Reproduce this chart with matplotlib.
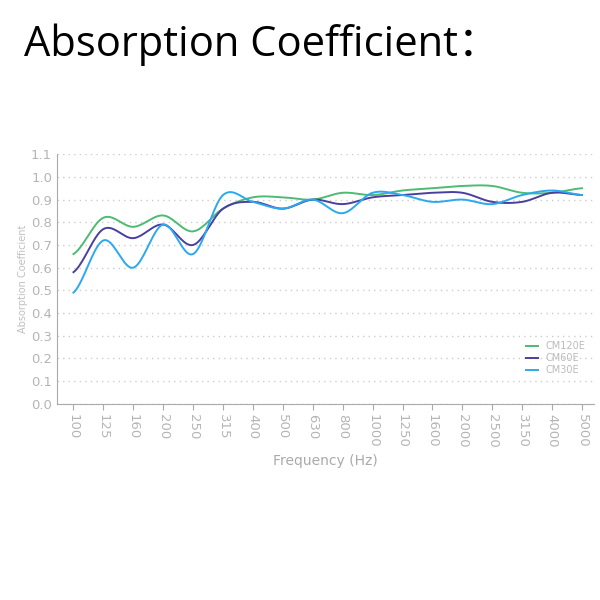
import numpy as np
import matplotlib
matplotlib.use("Agg")
import matplotlib.pyplot as plt

freqs = ["100","125","160","200","250","315","400","500","630","800","1000","1250","1600","2000","2500","3150","4000","5000"]
cm120e = [0.66,0.82,0.78,0.83,0.76,0.86,0.91,0.91,0.90,0.93,0.92,0.94,0.95,0.96,0.96,0.93,0.93,0.95]
cm60e  = [0.58,0.77,0.73,0.79,0.70,0.86,0.89,0.86,0.90,0.88,0.91,0.92,0.93,0.93,0.89,0.89,0.93,0.92]
cm30e  = [0.49,0.72,0.60,0.79,0.66,0.92,0.89,0.86,0.90,0.84,0.93,0.92,0.89,0.90,0.88,0.92,0.94,0.92]
names = ["CM120E","CM60E","CM30E"]
colors = ["#4dbb72","#4b3f9e","#2ba8f0"]

def smooth(y, n=20):
    y = np.asarray(y, float)
    p = np.concatenate([[y[0]], y, [y[-1]]])
    xs, ys = [], []
    for i in range(len(y) - 1):
        p0, p1, p2, p3 = p[i], p[i+1], p[i+2], p[i+3]
        t = np.linspace(0, 1, n, endpoint=False)
        v = 0.5*((2*p1) + (-p0+p2)*t + (2*p0-5*p1+4*p2-p3)*t**2 + (-p0+3*p1-3*p2+p3)*t**3)
        xs.append(i + t); ys.append(v)
    xs.append([len(y)-1]); ys.append([y[-1]])
    return np.concatenate(xs), np.concatenate(ys)

fig = plt.figure(figsize=(6, 6), dpi=100)
fig.text(0.04, 0.925, "Absorption Coefficient：", fontsize=30,
         family=["Open Sans", "Noto Sans CJK SC", "DejaVu Sans"], va="center", ha="left")
ax = fig.add_axes([0.095, 0.327, 0.895, 0.416])
x = np.arange(len(freqs))
for vals, nm, c in zip([cm120e, cm60e, cm30e], names, colors):
    sx, sy = smooth(vals)
    ax.plot(sx, sy, color=c, lw=1.4, label=nm)
ax.set_xlim(-0.55, len(freqs) - 0.6)
ax.set_ylim(0, 1.1)
ax.set_yticks(np.round(np.arange(0, 1.11, 0.1), 1))
ax.set_yticklabels([f"{v:.1f}" for v in np.arange(0, 1.11, 0.1)])
ax.set_xticks(x)
ax.set_xticklabels(freqs, rotation=-90)
ax.yaxis.grid(True, linestyle=(0, (1, 3)), color="#cccccc", lw=1)
for s in ["top", "right"]:
    ax.spines[s].set_visible(False)
for s in ["left", "bottom"]:
    ax.spines[s].set_color("#aaaaaa")
ax.tick_params(axis="both", colors="#aaaaaa", labelcolor="#b5b5b5", labelsize=9.5)
ax.tick_params(axis="y", length=0)
ax.tick_params(axis="x", length=4, direction="out")
ax.set_xlabel("Frequency (Hz)", color="#aaaaaa", fontsize=10)
ax.set_ylabel("Absorption Coefficient", color="#c0c0c0", fontsize=7, labelpad=2)
leg = ax.legend(loc="lower right", bbox_to_anchor=(1.0, 0.08), frameon=False, fontsize=7,
                handlelength=1.2, labelcolor="#bbbbbb", labelspacing=0.2)
fig.savefig("out.png", dpi=100, facecolor="white")
